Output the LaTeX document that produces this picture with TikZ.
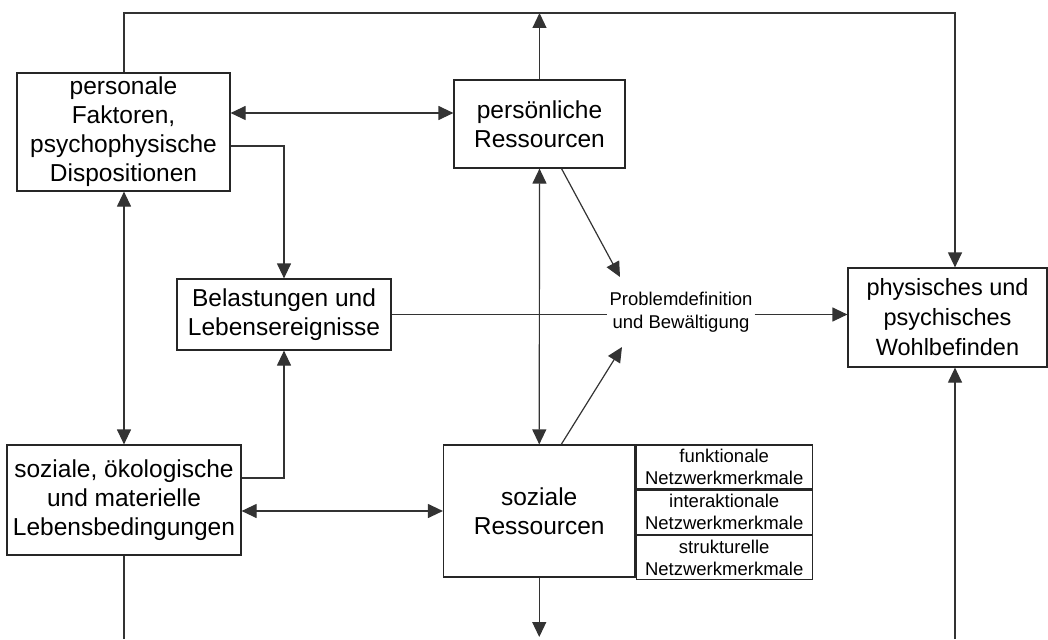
\documentclass[tikz,border=0pt]{standalone}
\usepackage{fontspec}
\setmainfont{Liberation Sans}
\usetikzlibrary{arrows.meta,calc}
\begin{document}
\begin{tikzpicture}[x=1pt,y=-1pt,
 box/.style={draw=black!85, line width=1.2pt, inner sep=0pt, align=center, font=\fontsize{24.5pt}{29pt}\selectfont},
 ln/.style={draw=black!80, line width=1.2pt},
 arr/.style={ln, -{Triangle[length=15pt,width=14pt]}},
 dbl/.style={ln, {Triangle[length=15pt,width=14pt]}-{Triangle[length=15pt,width=14pt]}},
 cell/.style={draw=black!85, line width=1.2pt, inner sep=0pt, align=center, minimum width=176pt, minimum height=44pt, font=\fontsize{18.5pt}{22pt}\selectfont}]
\useasboundingbox (0,0) rectangle (1048,639);

\node[box, minimum width=213pt, minimum height=118pt] (pers) at (123.5,132) {personale\\Faktoren,\\psychophysische\\Dispositionen};
\node[box, minimum width=171pt, minimum height=88pt] (pres) at (539.5,124) {persönliche\\Ressourcen};
\node[box, minimum width=214pt, minimum height=71pt] (bel) at (284,314.5) {Belastungen und\\Lebensereignisse};
\node[box, minimum width=199pt, minimum height=99pt, font=\fontsize{23.5pt}{30pt}\selectfont] (wohl) at (947.5,317.5) {physisches und\\psychisches\\Wohlbefinden};
\node[box, minimum width=234pt, minimum height=110pt] (soz) at (124,500) {soziale, ökologische\\und materielle\\Lebensbedingungen};
\node[box, minimum width=191.5pt, minimum height=132pt] (sres) at (539.25,511) {soziale\\Ressourcen};
\node[cell, anchor=north west] (c1) at (sres.north east) {funktionale\\Netzwerkmerkmale};
\node[cell, anchor=north west] (c2) at (c1.south west) {interaktionale\\Netzwerkmerkmale};
\node[cell, anchor=north west] (c3) at (c2.south west) {strukturelle\\Netzwerkmerkmale};
\node[font=\fontsize{18.5pt}{23pt}\selectfont, align=center, inner sep=2pt] (prob) at (681,312) {Problemdefinition\\und Bewältigung};

\coordinate (tl) at (124,13);
\coordinate (tr) at (955,13);
\coordinate (bl) at (124,639);
\coordinate (bm) at (540,637);
\coordinate (br) at (955,639);
\coordinate (jb) at (284,146);
\coordinate (jc) at (284,478);
\coordinate (d1) at (620,277);
\coordinate (d2) at (622,347);
\coordinate (h1) at (0,113);
\coordinate (h2) at (0,511);

\draw[arr] (pers.north -| tl) -- (tl) -- (tr) -- (tr |- wohl.north);
\draw[arr] (pres.north) -- (pres.north |- tl);
\draw[dbl] (pers.east |- h1) -- (pres.west |- h1);
\draw[arr] (pers.east |- jb) -- (jb) -- (jb |- bel.north);
\draw[arr] (soz.east |- jc) -- (jc) -- (jc |- bel.south);
\draw[dbl] (pres.south) -- (sres.north);
\draw[dbl] (pers.south -| tl) -- (soz.north -| tl);
\draw[dbl] (soz.east |- h2) -- (sres.west |- h2);
\draw[ln] (bel.east) -- (bel.east -| prob.west);
\draw[arr] (prob.east |- bel.east) -- (wohl.west |- bel.east);
\draw[arr] ($(pres.south)+(22,0)$) -- (d1);
\draw[arr] ($(sres.north)+(22,0)$) -- (d2);
\draw[ln] (soz.south) -- (soz.south |- bl);
\draw[arr] (sres.south) -- (sres.south |- bm);
\draw[arr] (br) -- (br |- wohl.south);
\end{tikzpicture}
\end{document}
